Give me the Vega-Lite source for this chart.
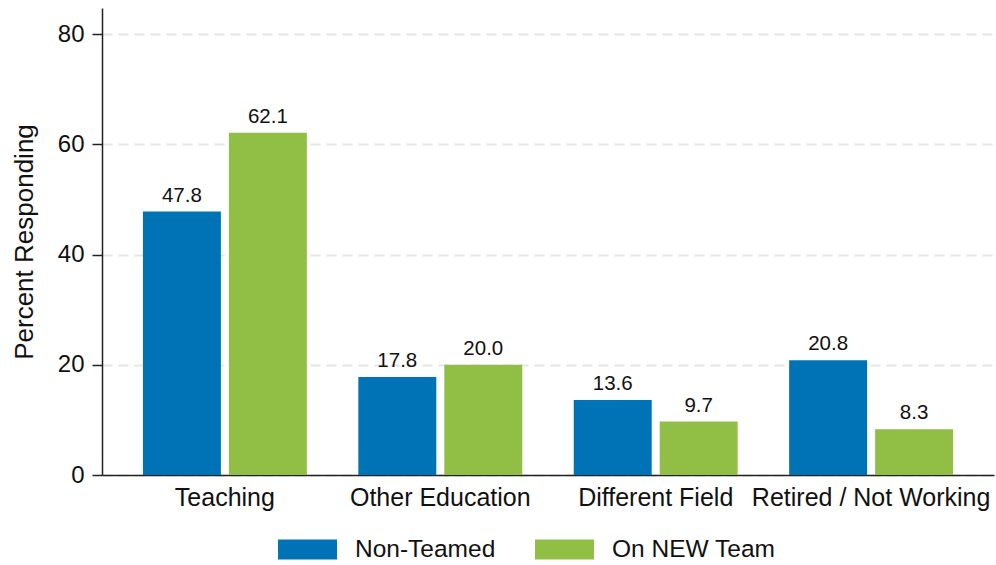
{
  "$schema": "https://vega.github.io/schema/vega-lite/v6.json",
  "width": 892,
  "height": 467,
  "autosize": {"type": "none"},
  "padding": {"left": 102, "top": 8, "right": 2, "bottom": 90},
  "background": "white",
  "config": {
    "font": "Liberation Sans",
    "view": {"stroke": null}
  },
  "data": {
    "values": [
      {"destination": "Teaching", "group": "Non-Teamed", "percent": 47.8},
      {"destination": "Teaching", "group": "On NEW Team", "percent": 62.1},
      {"destination": "Other Education", "group": "Non-Teamed", "percent": 17.8},
      {"destination": "Other Education", "group": "On NEW Team", "percent": 20.0},
      {"destination": "Different Field", "group": "Non-Teamed", "percent": 13.6},
      {"destination": "Different Field", "group": "On NEW Team", "percent": 9.7},
      {"destination": "Retired / Not Working", "group": "Non-Teamed", "percent": 20.8},
      {"destination": "Retired / Not Working", "group": "On NEW Team", "percent": 8.3}
    ]
  },
  "encoding": {
    "x": {
      "field": "destination",
      "type": "nominal",
      "sort": ["Teaching", "Other Education", "Different Field", "Retired / Not Working"],
      "scale": {"paddingInner": 0.239, "paddingOuter": 0.19},
      "axis": {
        "title": null,
        "labelAngle": 0,
        "labelFontSize": 25,
        "labelColor": "#111",
        "labelPadding": 10,
        "labelLimit": 0,
        "ticks": false,
        "domainColor": "#222",
        "domainWidth": 1.5,
        "grid": false
      }
    },
    "xOffset": {
      "field": "group",
      "type": "nominal",
      "scale": {"paddingInner": 0.093, "paddingOuter": 0}
    },
    "y": {
      "field": "percent",
      "type": "quantitative",
      "scale": {"domain": [0, 84.72], "nice": false},
      "axis": {
        "title": "Percent Responding",
        "titleFontSize": 26,
        "titleFontWeight": "normal",
        "titleColor": "#111",
        "titlePadding": 20,
        "values": [0, 20, 40, 60, 80],
        "labelFontSize": 24,
        "labelColor": "#111",
        "labelPadding": 8,
        "tickSize": 10,
        "tickColor": "#222",
        "tickWidth": 1.5,
        "domainColor": "#222",
        "domainWidth": 1.5,
        "grid": true,
        "gridColor": "#e6e6e6",
        "gridWidth": 2,
        "gridDash": [10, 6]
      }
    }
  },
  "layer": [
    {
      "mark": {"type": "bar"},
      "encoding": {
        "color": {
          "field": "group",
          "type": "nominal",
          "scale": {"domain": ["Non-Teamed", "On NEW Team"], "range": ["#0073B6", "#91BF45"]},
          "legend": {
            "title": null,
            "orient": "none",
            "direction": "horizontal",
            "legendX": 176,
            "legendY": 512,
            "symbolType": "M-1,-0.339H1V0.339H-1Z",
            "symbolSize": 3481,
            "symbolStrokeWidth": 0,
            "symbolOpacity": 1,
            "labelFontSize": 24.5,
            "labelColor": "#111",
            "labelOffset": 18,
            "labelLimit": 0,
            "columnPadding": 39
          }
        }
      }
    },
    {
      "mark": {"type": "text", "baseline": "alphabetic", "dy": -10, "fontSize": 20.5, "color": "#111"},
      "encoding": {
        "text": {"field": "percent", "type": "quantitative", "format": ".1f"}
      }
    }
  ]
}
